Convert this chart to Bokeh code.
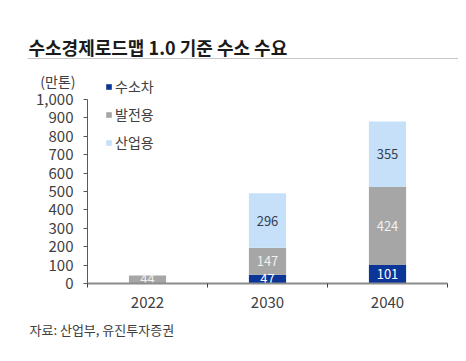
from bokeh.plotting import figure
from bokeh.models import (ColumnDataSource, Label, FixedTicker, NumeralTickFormatter,
                          Range1d, Legend, LegendItem, BoxAnnotation)
from bokeh.core.properties import value
from bokeh.embed import file_html
from bokeh.resources import INLINE

years = ["2022", "2030", "2040"]
series = ["수소차", "발전용", "산업용"]
car = [0, 47, 101]
power = [44, 147, 424]
industry = [0, 296, 355]
y_ticks = [0, 100, 200, 300, 400, 500, 600, 700, 800, 900, 1000]
title_text = "수소경제로드맵 1.0 기준 수소 수요"
unit_text = "(만톤)"
source_text = "자료: 산업부, 유진투자증권"

colors = ["#0B3596", "#A6A6A6", "#C5E0F8"]
label_colors = ["#FFFFFF", "#F0F0F0", "#333F50"]
FONT = "Noto Sans CJK KR"
TXT = "#404040"

# canvas layout (px)
W, H = 458, 353
AX_L, AX_R, AX_B, AX_T = 87, 447, 283, 99   # axis box on canvas
YMAX = 1000
n = len(years)
xpos = [i + 0.5 for i in range(n)]

ux = n / (AX_R - AX_L)          # data units per px (x)
uy = YMAX / (AX_B - AX_T)       # data units per px (y)
x_range = Range1d(-AX_L * ux, n + (W - AX_R) * ux)
y_range = Range1d(-(H - AX_B) * uy, YMAX + AX_T * uy)

p = figure(x_range=x_range, y_range=y_range,
           width=W, height=H, output_backend="svg", toolbar_location=None,
           min_border=0, min_border_left=0, min_border_right=0, min_border_top=0,
           min_border_bottom=0, outline_line_color=None)
p.xgrid.grid_line_color = None
p.ygrid.grid_line_color = None

src = ColumnDataSource(dict(x=xpos, car=car, power=power, industry=industry))
rends = p.vbar_stack(["car", "power", "industry"], x="x", width=0.31, source=src,
                     color=colors, line_color=None)

# value labels
stack_vals = [car, power, industry]
base = [0] * n
for i, vals in enumerate(stack_vals):
    xs, ys, ts = [], [], []
    for j, v in enumerate(vals):
        if v > 0:
            xs.append(xpos[j])
            ys.append(base[j] + v / 2)
            ts.append(str(v))
    base = [b + v for b, v in zip(base, vals)]
    ls = ColumnDataSource(dict(x=xs, y=ys, t=ts))
    p.text(x="x", y="y", text="t", source=ls, text_align="center", text_baseline="middle",
           text_font=value(FONT), text_font_size="13px", text_color=label_colors[i])

ax = p.yaxis[0]
ax.fixed_location = 0
ax.bounds = (0, YMAX)
ax.ticker = FixedTicker(ticks=y_ticks)
ax.formatter = NumeralTickFormatter(format="0,0")
ax.axis_line_color = "#595959"
ax.major_tick_line_color = "#595959"
ax.major_tick_in = 0
ax.major_tick_out = 4
ax.minor_tick_line_color = None
ax.major_label_text_font = FONT
ax.major_label_text_font_size = "15px"
ax.major_label_text_color = TXT
ax.major_label_standoff = 10

xa = p.xaxis[0]
xa.fixed_location = 0
xa.bounds = (0, n)
xa.ticker = FixedTicker(ticks=xpos, minor_ticks=list(range(n + 1)))
xa.major_label_overrides = {x: y for x, y in zip(xpos, years)}
xa.axis_line_color = "#8C8C8C"
xa.axis_line_width = 2
xa.major_tick_line_color = None
xa.minor_tick_line_color = "#404040"
xa.minor_tick_in = 0
xa.minor_tick_out = 4
xa.major_label_text_font = FONT
xa.major_label_text_font_size = "15px"
xa.major_label_text_color = TXT
xa.major_label_standoff = 7

# legend
legend = Legend(items=[LegendItem(label=s, renderers=[r]) for s, r in zip(series, rends)],
                location=(105, H - 152), orientation="vertical",
                glyph_width=7, glyph_height=7, label_standoff=3, spacing=8,
                label_height=20, padding=0, margin=0,
                border_line_color=None, background_fill_alpha=0,
                label_text_font=FONT, label_text_font_size="14px", label_text_color=TXT)
p.add_layout(legend, "center")

def sy(page_y):
    return H - page_y

p.add_layout(Label(x=28, y=sy(46), x_units="screen", y_units="screen", text=title_text,
                   text_font=FONT, text_font_size="18px", text_font_style="bold",
                   text_color="#1A1A1A", text_baseline="middle"))
p.add_layout(BoxAnnotation(left=27, right=W, bottom=sy(58.5), top=sy(57.5),
                           left_units="screen", right_units="screen",
                           bottom_units="screen", top_units="screen",
                           fill_color="#C8C8C8", fill_alpha=1, line_color=None))
p.add_layout(Label(x=75, y=sy(80), x_units="screen", y_units="screen", text=unit_text,
                   text_font=FONT, text_font_size="14px", text_color=TXT,
                   text_align="right", text_baseline="middle"))
p.add_layout(Label(x=29, y=sy(329), x_units="screen", y_units="screen", text=source_text,
                   text_font=FONT, text_font_size="13px", text_color=TXT,
                   text_baseline="middle"))

open("out.html", "w").write(file_html(p, INLINE))
